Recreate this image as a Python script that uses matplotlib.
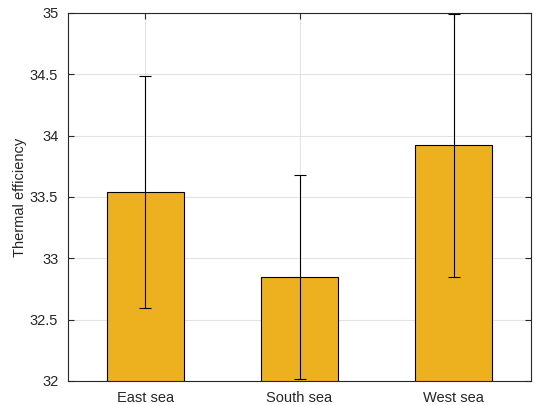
import numpy as np
import matplotlib.pyplot as plt

plt.rcParams['font.family'] = ['Liberation Sans', 'DejaVu Sans']

regions = ['East sea', 'South sea', 'West sea']
efficiency = [33.54, 32.85, 33.92]
errors = [0.945, 0.83, 1.07]

fig = plt.figure(figsize=(5.34, 4.05), dpi=100)
ax = fig.add_axes([68/534, 1-381/405, (531-68)/534, (381-13)/405])

x = np.arange(1, len(regions)+1)
ax.bar(x, efficiency, width=0.5, color='#EDB120', edgecolor='black', linewidth=0.8, zorder=2)
ax.errorbar(x, efficiency, yerr=errors, fmt='none', ecolor='black', elinewidth=0.8,
            capsize=4, capthick=0.8, zorder=3)

ax.set_xlim(0.5, 3.5)
ax.set_ylim(32, 35)
ax.set_xticks(x)
ax.set_xticklabels(regions)
ax.set_yticks(np.arange(32, 35.01, 0.5))
ax.set_yticklabels(['32', '32.5', '33', '33.5', '34', '34.5', '35'])
ax.set_ylabel('Thermal efficiency', fontsize=10.5, color='#262626', labelpad=2)
ax.grid(True, color='#e3e3e3', linewidth=0.8, zorder=0)
ax.set_axisbelow(True)
ax.tick_params(direction='in', top=True, right=True, length=4, width=0.8,
               colors='#262626', labelsize=10.5, pad=7)
for s in ax.spines.values():
    s.set_color('#262626')
    s.set_linewidth(0.8)

fig.savefig('out.png', dpi=100)
